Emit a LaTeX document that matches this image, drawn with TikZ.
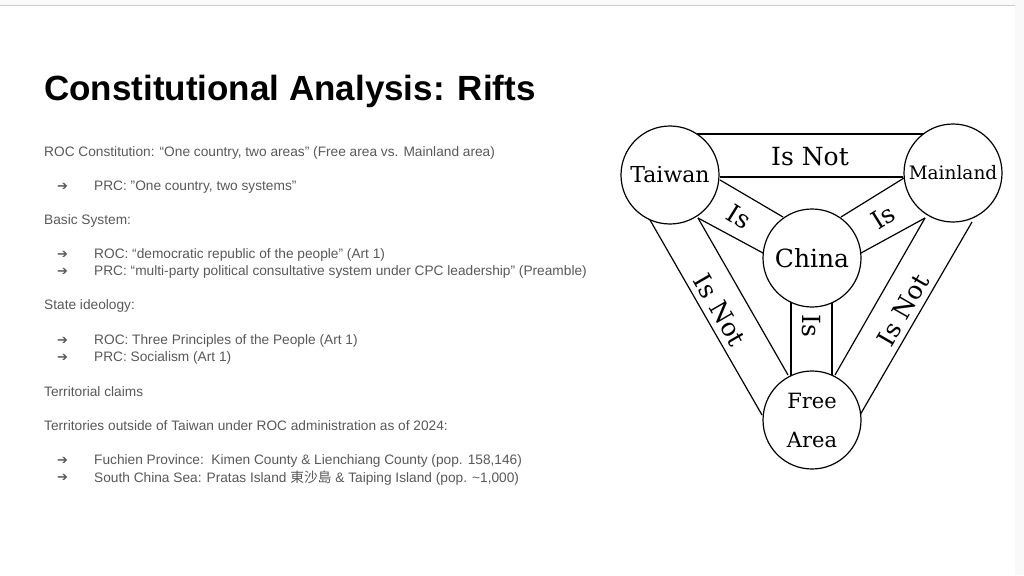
\documentclass[tikz,border=0pt]{standalone}
\usepackage{fontspec}
\setmainfont{Liberation Sans}
\newfontfamily\dser{DejaVu Serif}
\newfontfamily\dsans{DejaVu Sans}
\newfontfamily\cjk{Noto Sans CJK TC}
\definecolor{txt}{HTML}{595959}
\begin{document}
\begin{tikzpicture}[x=1pt,y=-1pt,
  body/.style={anchor=west,text=txt,font=\fontsize{13.7}{15}\selectfont,inner sep=0pt},
  arr/.style={anchor=west,text=txt,font=\dsans\fontsize{13}{15}\selectfont,inner sep=0pt},
  ring/.style={circle,draw,line width=1.2pt,fill=white,minimum size=98pt,inner sep=0pt,font=\dser\fontsize{22}{26}\selectfont},
  band/.style={line width=1.2pt},
  lab/.style={font=\dser\fontsize{25}{28}\selectfont,inner sep=0pt}]
\useasboundingbox (0,0) rectangle (1024,575);
\fill[white] (0,0) rectangle (1024,575);
\fill[gray!5] (0,0) rectangle (1024,5);
\fill[gray!5] (1015,5) rectangle (1024,575);
\draw[gray!40,line width=1pt] (0,5.5) -- (1015,5.5);
\node[anchor=base west,inner sep=0pt,font=\bfseries\fontsize{35}{40}\selectfont] (title) at (44,100) {Constitutional Analysis: Rifts};
\node[body] (l1) at (44,153) {ROC Constitution: “One country, two areas” (Free area vs. Mainland area)};
\node[arr] (a1) at (57,187) {➔}; \node[body] (l2) at (94,187) {PRC: "One country, two systems"};
\node[body] (l3) at (44,221) {Basic System:};
\node[arr] (a2) at (57,255) {➔}; \node[body] (l4) at (94,255) {ROC: “democratic republic of the people” (Art 1)};
\node[arr] (a3) at (57,272) {➔}; \node[body] (l5) at (94,272) {PRC: “multi-party political consultative system under CPC leadership” (Preamble)};
\node[body] (l6) at (44,306) {State ideology:};
\node[arr] (a4) at (57,341) {➔}; \node[body] (l7) at (94,341) {ROC: Three Principles of the People (Art 1)};
\node[arr] (a5) at (57,358) {➔}; \node[body] (l8) at (94,358) {PRC: Socialism (Art 1)};
\node[body] (l9) at (44,392) {Territorial claims};
\node[body] (l10) at (44,426) {Territories outside of Taiwan under ROC administration as of 2024:};
\node[arr] (a6) at (57,461) {➔}; \node[body] (l11) at (94,461) {Fuchien Province:\ \ Kimen County \& Lienchiang County (pop. 158,146)};
\node[arr] (a7) at (57,478) {➔}; \node[body] (l12) at (94,478) {South China Sea: Pratas Island {\cjk 東沙島} \& Taiping Island (pop. \textasciitilde1,000)};
% bands
\coordinate (t1) at (697,134); \coordinate (t2) at (928,134);
\coordinate (t3) at (720,177); \coordinate (t4) at (903,177);
\draw[band] (t1) -- (t2) (t3) -- (t4);
\coordinate (c1) at (720,180); \coordinate (c2) at (783,217);
\coordinate (c3) at (698,218); \coordinate (c4) at (763,253);
\draw[band] (c1) -- (c2) (c3) -- (c4);
\coordinate (m1) at (904,178); \coordinate (m2) at (841,217);
\coordinate (m3) at (925,218); \coordinate (m4) at (861,253);
\draw[band] (m1) -- (m2) (m3) -- (m4);
\coordinate (f1) at (650,220); \coordinate (f2) at (762,415);
\coordinate (f3) at (698,218); \coordinate (f4) at (788,375);
\draw[band] (f1) -- (f2) (f3) -- (f4);
\coordinate (g1) at (972,222); \coordinate (g2) at (860,415);
\coordinate (g3) at (925,218); \coordinate (g4) at (835,375);
\draw[band] (g1) -- (g2) (g3) -- (g4);
\coordinate (v1) at (791,290); \coordinate (v2) at (791,380);
\coordinate (v3) at (832,290); \coordinate (v4) at (832,380);
\draw[band] (v1) -- (v2) (v3) -- (v4);
% circles
\node[ring] (tw) at (670,175) {Taiwan};
\node[ring,font=\dser\fontsize{18.5}{22}\selectfont] (ml) at (953,173) {Mainland};
\node[ring,font=\dser\fontsize{25}{28}\selectfont] (cn) at (812,258) {China};
\node[ring,align=center,font=\dser\fontsize{21}{39}\selectfont] (fa) at (812,420) {Free\\Area};
% labels
\node[lab] (n1) at (810,157) {Is Not};
\node[lab,rotate=-32] (n2) at (739,217) {Is};
\node[lab,rotate=32] (n3) at (883,217) {Is};
\node[lab,rotate=-60] (n4) at (720,310) {Is Not};
\node[lab,rotate=60] (n5) at (903,310) {Is Not};
\node[lab,rotate=-90] (n6) at (811,326) {Is};
\end{tikzpicture}
\end{document}
